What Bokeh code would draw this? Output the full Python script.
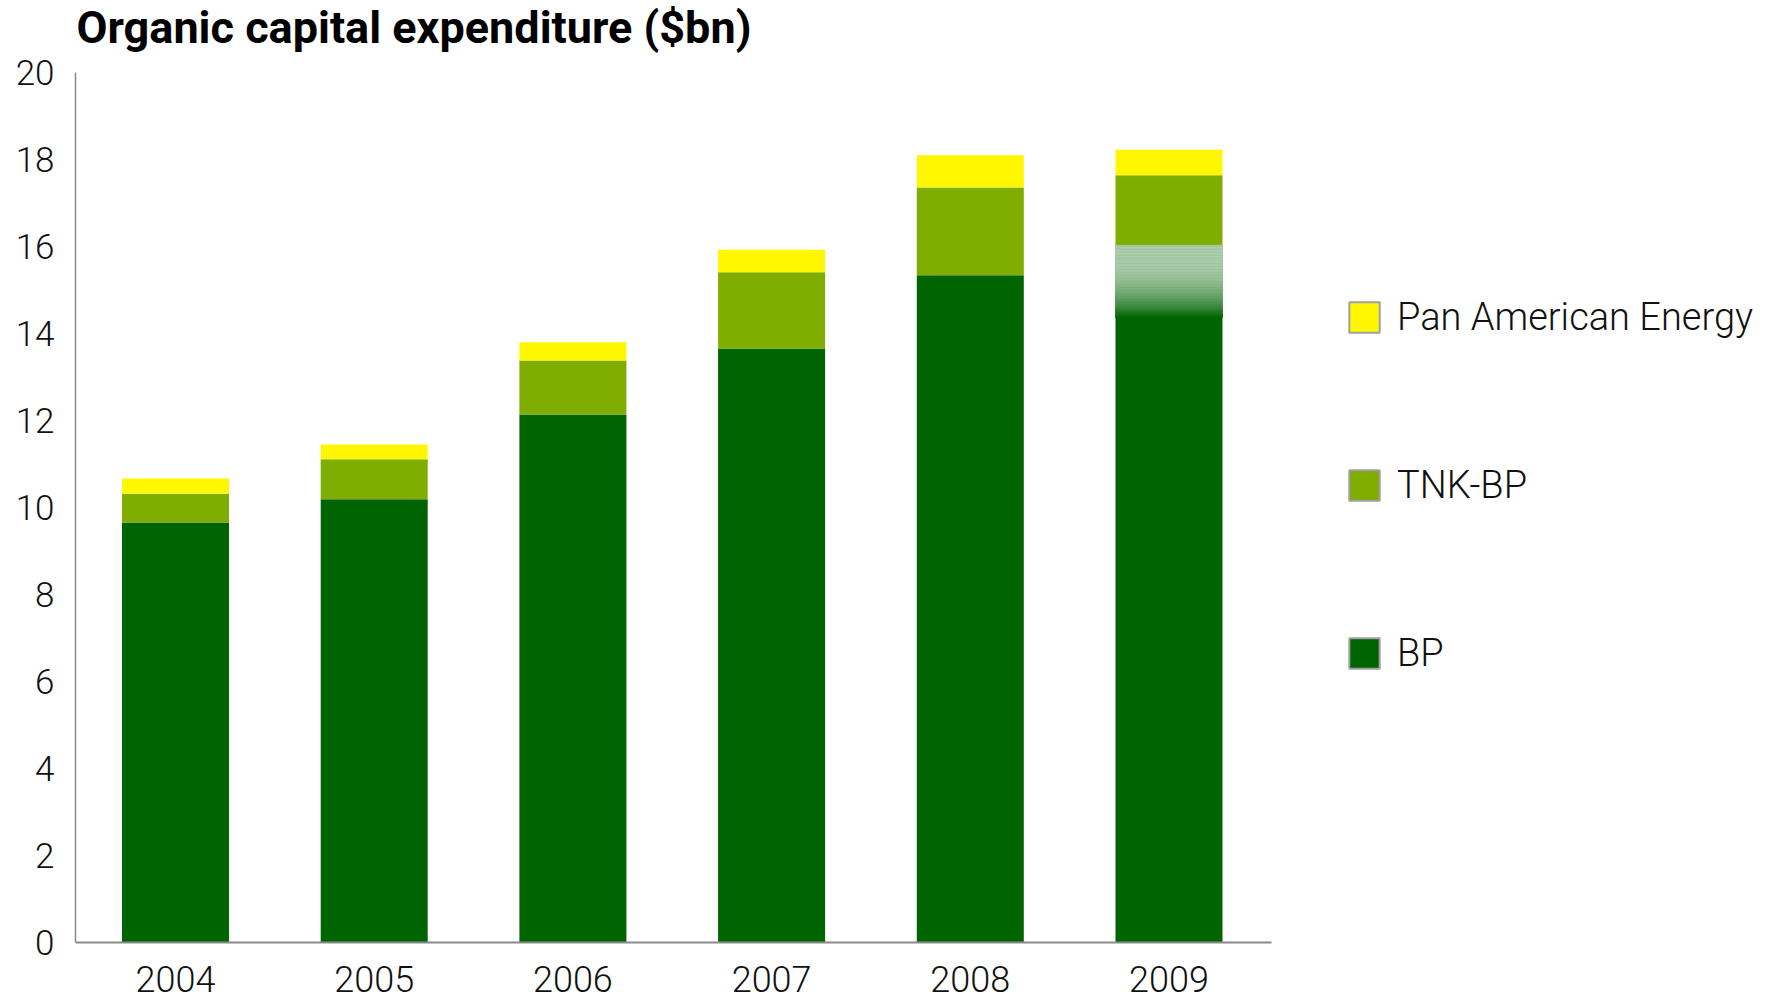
import numpy as np
from bokeh.plotting import figure
from bokeh.models import (ColumnDataSource, Range1d, FixedTicker, Legend,
                          LegendItem, Label)
from bokeh.embed import file_html
from bokeh.resources import INLINE

# ---- data ----
years = [2004, 2005, 2006, 2007, 2008, 2009]
bp = [9.65, 10.18, 12.13, 13.65, 15.33, 16.02]
tnk_bp = [0.66, 0.92, 1.24, 1.75, 2.02, 1.61]
pan_american = [0.35, 0.34, 0.42, 0.52, 0.74, 0.59]
bp_2009_fade_from = 14.36          # lower edge of the faded part of the 2009 BP bar
y_ticks = [0, 2, 4, 6, 8, 10, 12, 14, 16, 18, 20]
series_names = ["BP", "TNK-BP", "Pan American Energy"]
title_text = "Organic capital expenditure ($bn)"

# ---- styles / layout ----
colors = ["#006400", "#7fad00", "#fff700"]
light_font = "Roboto Light"
W, H = 1767, 1004
px_per_year = 198.7
first_year_px = 175.0      # canvas x of first bar centre
axis_left_px = 75.0        # canvas x of the value axis
axis_right_px = 1270.5     # canvas x where the category axis ends
zero_px = 941.7            # canvas y of value 0
px_per_unit = 43.5
bar_width = 107.0 / px_per_year

x0 = years[0] - first_year_px / px_per_year
x1 = years[0] + (W - first_year_px) / px_per_year
y0 = -(H - zero_px) / px_per_unit
y1 = zero_px / px_per_unit
x_axis_start = years[0] - (first_year_px - axis_left_px) / px_per_year
x_axis_end = years[0] + (axis_right_px - first_year_px) / px_per_year

source = ColumnDataSource(dict(year=years, bp=bp, tnk=tnk_bp, pae=pan_american))

p = figure(width=W, height=H, x_range=Range1d(x0, x1), y_range=Range1d(y0, y1),
           output_backend="svg", toolbar_location=None,
           min_border_left=0, min_border_right=0,
           min_border_top=0, min_border_bottom=0,
           background_fill_color="white", border_fill_color="white")
p.outline_line_color = None
p.grid.visible = False

p.vbar_stack(["bp", "tnk", "pae"], x="year", width=bar_width, color=colors,
             line_color=None, source=source)

# faded top part of the 2009 BP bar
n = 48
edges = np.linspace(bp_2009_fade_from, bp[-1], n + 1)
fade_cols = []
for i in range(n):
    t = (i + 0.5) / n
    a = 0.31 + 0.69 * (1 - t) ** 2.5
    r = int(round(255 * (1 - a)))
    g = int(round(255 * (1 - a) + 100 * a))
    fade_cols.append("#%02x%02x%02x" % (r, g, r))
p.vbar(x=[years[-1]] * n, bottom=edges[:-1], top=edges[1:], width=bar_width,
       fill_color=fade_cols, line_color=fade_cols, line_width=0.6)

# value axis
p.yaxis.fixed_location = x_axis_start
p.yaxis.bounds = (y_ticks[0], y_ticks[-1])
p.yaxis.ticker = FixedTicker(ticks=y_ticks)
p.yaxis.major_label_text_font = light_font
p.yaxis.major_label_text_font_size = "35px"
p.yaxis.major_label_text_color = "#111111"
p.yaxis.major_label_standoff = 21
p.yaxis.major_tick_out = 0
p.yaxis.major_tick_in = 0
p.yaxis.major_tick_line_color = None
p.yaxis.minor_tick_line_color = None
p.yaxis.axis_line_color = "#8a8a8a"
p.yaxis.axis_line_width = 1.5

# category axis
p.xaxis.fixed_location = 0
p.xaxis.bounds = (x_axis_start, x_axis_end)
p.xaxis.ticker = FixedTicker(ticks=years)
p.xaxis.major_label_text_font = light_font
p.xaxis.major_label_text_font_size = "36px"
p.xaxis.major_label_text_color = "#111111"
p.xaxis.major_label_standoff = 24
p.xaxis.major_tick_out = 0
p.xaxis.major_tick_in = 0
p.xaxis.major_tick_line_color = None
p.xaxis.minor_tick_line_color = None
p.xaxis.axis_line_color = "#8a8a8a"
p.xaxis.axis_line_width = 2

# title
title = Label(x=76, y=H - 27, x_units="screen", y_units="screen", text=title_text,
              text_font="Roboto", text_font_style="bold",
              text_font_size="45px", text_color="black",
              text_baseline="alphabetic")
p.add_layout(title)

# legend: hidden renderers that carry the swatch style (grey border)
dummies = []
for key, c in zip(["bp", "tnk", "pae"], colors):
    dummies.append(p.vbar(x="year", top=key, width=bar_width, fill_color=c,
                          line_color="#a0a0a0", line_width=2, source=source,
                          visible=False))
items = [LegendItem(label=series_names[i], renderers=[dummies[i]]) for i in (2, 1, 0)]
legend = Legend(items=items, location=(1345, 329), orientation="vertical",
                glyph_width=38, glyph_height=38, label_height=38,
                spacing=124, label_standoff=14, padding=0, margin=0,
                border_line_color=None, background_fill_alpha=0,
                inactive_fill_alpha=0,
                label_text_font=light_font, label_text_font_size="38px",
                label_text_color="#111111")
p.add_layout(legend)

open("out.html", "w").write(file_html(p, INLINE))
